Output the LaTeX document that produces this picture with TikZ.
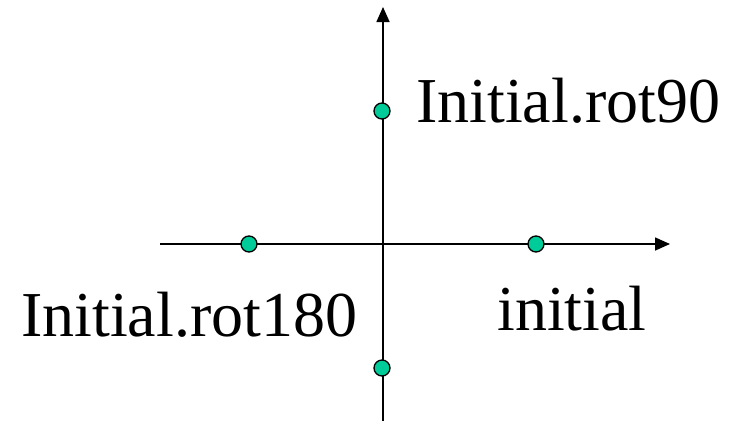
\documentclass[tikz,border=0pt]{standalone}
\usepackage{fontspec}
\setmainfont{Liberation Serif}
\usetikzlibrary{arrows.meta}
\definecolor{dotgreen}{HTML}{00CC99}
\begin{document}
\begin{tikzpicture}[x=1pt,y=-1pt,
  axis/.style={line width=1.6pt,-{Triangle[length=15pt,width=13pt]}},
  dot/.style={circle,draw=black,line width=1.3pt,fill=dotgreen,minimum size=16pt,inner sep=0pt},
  lbl/.style={anchor=base west,inner sep=0pt,font=\fontsize{64}{70}\selectfont}]
\useasboundingbox (0,0) rectangle (735,423);
\coordinate (xs) at (160,244);
\coordinate (xe) at (670,244);
\coordinate (ys) at (383,421);
\coordinate (ye) at (383,7);
\draw[axis] (xs) -- (xe);
\draw[axis] (ys) -- (ye);
\node[dot] (p0) at (536,244) {};
\node[dot] (p90) at (382,111) {};
\node[dot] (p180) at (249,244) {};
\node[dot] (p270) at (382,368) {};
\node[lbl] (l90) at (416,122) {Initial.rot90};
\node[lbl] (l180) at (21,336) {Initial.rot180};
\node[lbl] (l0) at (497,330) {initial};
\end{tikzpicture}
\end{document}
